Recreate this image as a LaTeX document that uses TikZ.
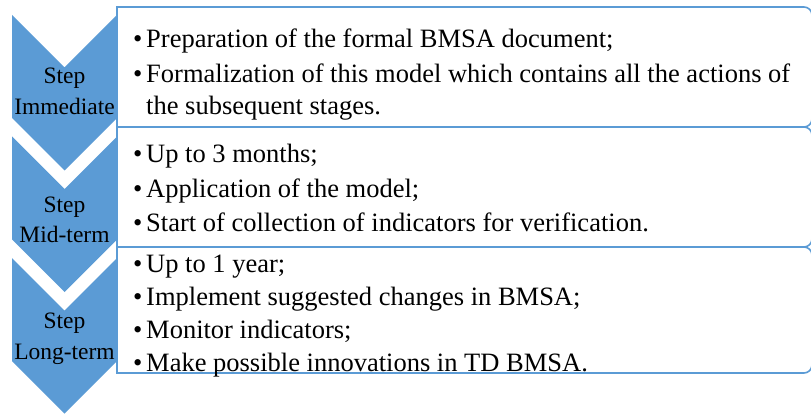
\documentclass[tikz,border=0pt]{standalone}
\usepackage{fontspec}
\setmainfont{Liberation Serif}
\definecolor{stepblue}{HTML}{5B9BD5}

\tikzset{
  chev/.style={fill=stepblue},
  itembox/.style={draw=stepblue, line width=1.6pt, fill=white},
  steplabel/.style={anchor=base, align=center, inner sep=0pt, font=\fontsize{23.5}{31}\selectfont},
  bul/.style={anchor=base west, inner sep=0pt, font=\fontsize{26.5}{32}\selectfont},
  entry/.style={anchor=base west, inner sep=0pt, align=left, font=\fontsize{26.5}{32}\selectfont},
}

\begin{document}
\begin{tikzpicture}[x=1pt,y=-1pt]
\useasboundingbox (0,0) rectangle (811,414);

% text boxes, square on the left, round on the right
\draw [itembox] (117,7) [rounded corners=8pt] -- (812,7) -- (812,127) [sharp corners] -- (117,127) -- cycle;
\draw [itembox] (117,127) [rounded corners=8pt] -- (812,127) -- (812,247) [sharp corners] -- (117,247) -- cycle;
\draw [itembox] (117,247) [rounded corners=8pt] -- (812,247) -- (812,373) [sharp corners] -- (117,373) -- cycle;

% chevrons
\fill [chev] (12,15) -- (64.5,67.5) -- (117,15) -- (117,118) -- (64.5,170.5) -- (12,118) -- cycle;
\fill [chev] (12,136.5) -- (64.5,189) -- (117,136.5) -- (117,239.5) -- (64.5,292) -- (12,239.5) -- cycle;
\fill [chev] (12,258) -- (64.5,310.5) -- (117,258) -- (117,361) -- (64.5,413.5) -- (12,361) -- cycle;

% base of a two-line node is its last line
\node [steplabel] (step1) at (64.5,115) {Step\\Immediate};
\node [steplabel] (step2) at (64.5,243) {Step\\Mid-term};
\node [steplabel] (step3) at (64.5,359) {Step\\Long-term};

% immediate
\node [bul] (b11) at (133,48) {\textbullet};
\node [entry] (t11) at (146,48) {Preparation of the formal BMSA document;};
\node [bul] (b12) at (133,83) {\textbullet};
\node [entry] (t12) at (146,115) {Formalization of this model which contains all the actions of\\the subsequent stages.};

% mid-term
\node [bul] (b21) at (133,163) {\textbullet};
\node [entry] (t21) at (146,163) {Up to 3 months;};
\node [bul] (b22) at (133,197) {\textbullet};
\node [entry] (t22) at (146,197) {Application of the model;};
\node [bul] (b23) at (133,231) {\textbullet};
\node [entry] (t23) at (146,231) {Start of collection of indicators for verification.};

% long-term
\node [bul] (b31) at (133,272) {\textbullet};
\node [entry] (t31) at (146,272) {Up to 1 year;};
\node [bul] (b32) at (133,305) {\textbullet};
\node [entry] (t32) at (146,305) {Implement suggested changes in BMSA;};
\node [bul] (b33) at (133,338) {\textbullet};
\node [entry] (t33) at (146,338) {Monitor indicators;};
\node [bul] (b34) at (133,371) {\textbullet};
\node [entry] (t34) at (146,371) {Make possible innovations in TD BMSA.};

\end{tikzpicture}
\end{document}
